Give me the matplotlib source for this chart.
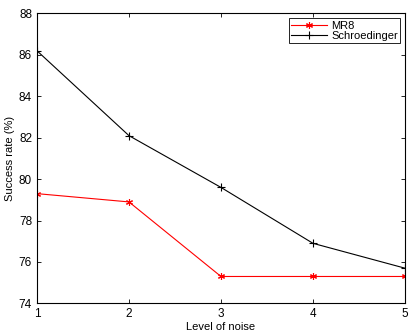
import matplotlib
matplotlib.use("Agg")
import matplotlib.pyplot as plt

noise_levels = [1, 2, 3, 4, 5]
mr8 = [79.3, 78.9, 75.3, 75.3, 75.3]
schroedinger = [86.2, 82.1, 79.6, 76.9, 75.7]

plt.rcParams['font.family'] = ['Liberation Sans', 'DejaVu Sans']
fig = plt.figure(figsize=(4.15, 3.36), dpi=100)
ax = fig.add_axes([0.089, 0.097, 0.887, 0.863])
ax.plot(noise_levels, mr8, color='red', marker=(6, 2, 0), markersize=5, linewidth=0.8,
        markeredgewidth=0.8, label='MR8')
ax.plot(noise_levels, schroedinger, color='black', marker='+', markersize=6, linewidth=0.8,
        markeredgewidth=0.8, label='Schroedinger')
ax.set_xlim(1, 5)
ax.set_ylim(74, 88)
ax.set_xticks([1, 2, 3, 4, 5])
ax.set_yticks(range(74, 89, 2))
ax.tick_params(direction='in', top=True, right=True, labelsize=8.5, length=3, width=0.6)
for s in ax.spines.values():
    s.set_linewidth(0.8)
ax.set_xlabel('Level of noise', fontsize=8, labelpad=1)
ax.set_ylabel('Success rate (%)', fontsize=8, labelpad=3)
leg = ax.legend(loc='upper right', fontsize=8, fancybox=False, edgecolor='black',
                framealpha=1, borderpad=0.2, handlelength=3.2, labelspacing=0.0,
                handletextpad=0.4, borderaxespad=0.45)
leg.get_frame().set_linewidth(0.6)
fig.savefig('out.png', dpi=100)
